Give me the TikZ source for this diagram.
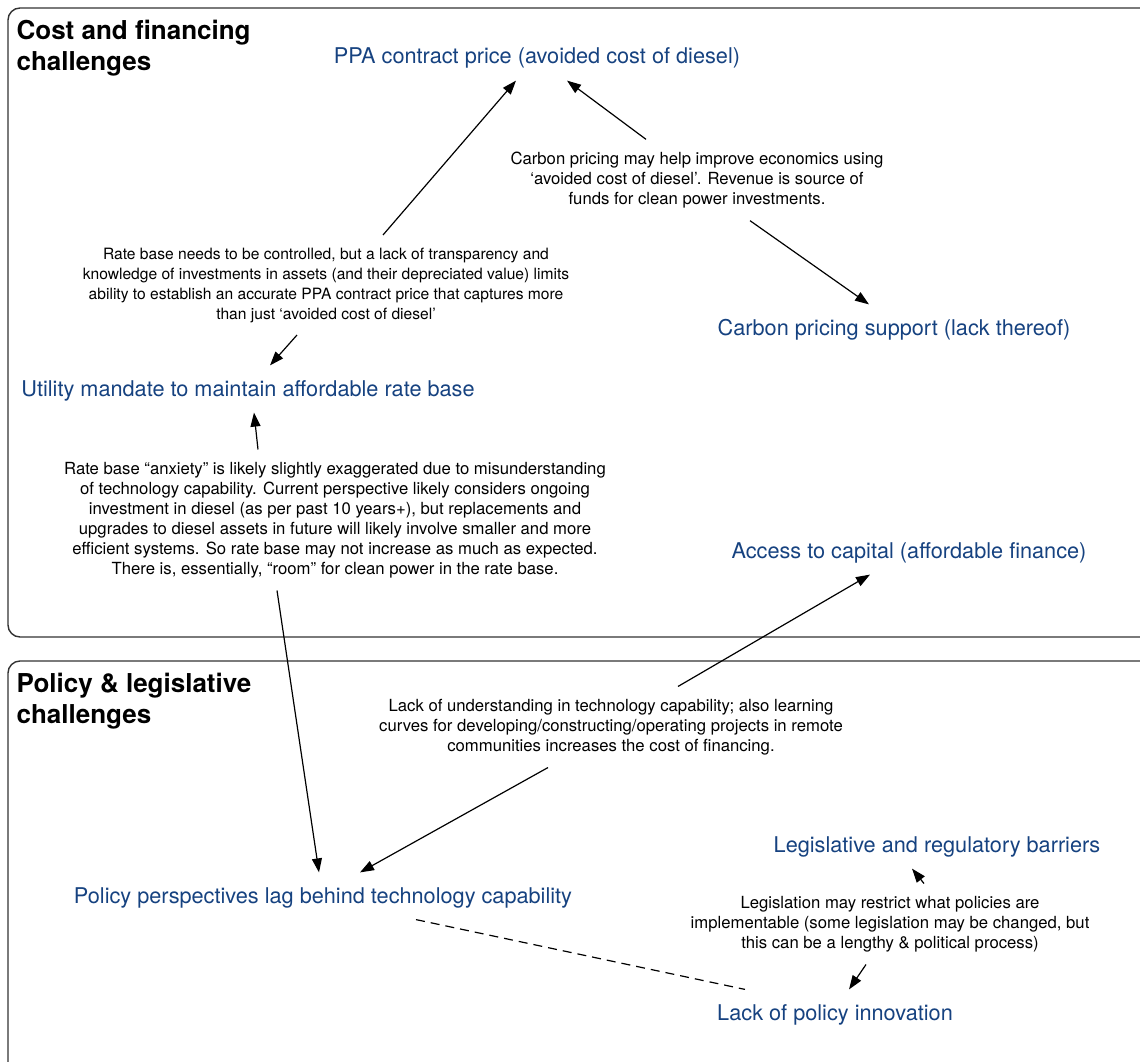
\documentclass[tikz,border=0pt]{standalone}
\usepackage{fontspec}
\setmainfont{TeX Gyre Heros}
\usepackage{tikz}
\usetikzlibrary{arrows.meta}
\definecolor{causeblue}{RGB}{22,66,128}
\tikzstyle{panel}=[draw=black!80,line width=1.4pt,rounded corners=12pt]
\tikzstyle{heading}=[anchor=north west,align=left,inner sep=0pt,font=\fontsize{26}{31}\selectfont\bfseries]
\tikzstyle{factor}=[text=causeblue,font=\fontsize{21.7}{26}\selectfont,inner xsep=2pt,inner ysep=13pt,text height=17pt,text depth=3pt]
\tikzstyle{note}=[align=center,font=\fontsize{16.7}{20}\selectfont,inner xsep=2pt,inner ysep=12pt]

\begin{document}
\begin{tikzpicture}[x=1pt,y=-1pt,line width=1.2pt,>={Triangle[length=14pt,width=10pt]},->]
  \useasboundingbox (0,0) rectangle (1140,1062);
  % panels
  \draw[panel,-] (1170,637) -- (8,637) -- (8,8) -- (1170,8);
  \draw[panel,-] (1170,661) -- (8,661) -- (8,1090);
  \node[heading] (costhead)   at (16,20)  {Cost and financing\\challenges};
  \node[heading] (policyhead) at (16,673) {Policy \& legislative\\challenges};
  % factors
  \node[factor] (ppa)         at (537,57)   {PPA contract price (avoided cost of diesel)};
  \node[factor] (carbon)      at (894,328)  {Carbon pricing support (lack thereof)};
  \node[factor] (utility)     at (248,389)  {Utility mandate to maintain affordable rate base};
  \node[factor] (capital)     at (909,551)  {Access to capital (affordable finance)};
  \node[factor] (perspective) at (323,896)  {Policy perspectives lag behind technology capability};
  \node[factor] (barriers)    at (937,845)  {Legislative and regulatory barriers};
  \node[factor] (innovation)  at (835,1013) {Lack of policy innovation};
  % notes
  \node[note] (carbonnote) at (697,180) {Carbon pricing may help improve economics using\\‘avoided cost of diesel’. Revenue is source of\\funds for clean power investments.};
  \node[note,font=\fontsize{15.6}{20}\selectfont] (ratenote) at (326,285) {Rate base needs to be controlled, but a lack of transparency and\\knowledge of investments in assets (and their depreciated value) limits\\ability to establish an accurate PPA contract price that captures more\\than just ‘avoided cost of diesel’};
  \node[note] (anxietynote) at (335,520) {Rate base “anxiety” is likely slightly exaggerated due to misunderstanding\\of technology capability. Current perspective likely considers ongoing\\investment in diesel (as per past 10 years+), but replacements and\\upgrades to diesel assets in future will likely involve smaller and more\\efficient systems. So rate base may not increase as much as expected.\\There is, essentially, “room” for clean power in the rate base.};
  \node[note] (understandnote) at (611,727) {Lack of understanding in technology capability; also learning\\curves for developing/constructing/operating projects in remote\\communities increases the cost of financing.};
  \node[note] (legisnote) at (890,924) {Legislation may restrict what policies are\\implementable (some legislation may be changed, but\\this can be a lengthy \& political process)};
  % links
  \draw ([xshift=57pt]ratenote.north) -- ([xshift=-21pt]ppa.south);
  \draw ([xshift=-51pt]carbonnote.north) -- ([xshift=30pt]ppa.south);
  \draw ([xshift=53pt]carbonnote.south) -- ([xshift=-25pt]carbon.north);
  \draw ([xshift=-29pt]ratenote.south) -- ([xshift=22pt]utility.north);
  \draw ([xshift=-77pt]anxietynote.north) -- ([xshift=6pt]utility.south);
  \draw ([xshift=-58pt]anxietynote.south) -- ([xshift=-4pt]perspective.north);
  \draw ([xshift=67pt]understandnote.north) -- ([xshift=-39pt]capital.south);
  \draw ([xshift=-63pt]understandnote.south) -- ([xshift=37pt]perspective.north);
  \draw ([xshift=34pt]legisnote.north) -- ([xshift=-25pt]barriers.south);
  \draw ([xshift=-24pt]legisnote.south) -- ([xshift=14pt]innovation.north);
  \draw[-,dashed,dash pattern=on 9pt off 6pt] ([xshift=93pt]perspective.south) -- ([xshift=-90pt]innovation.north);
\end{tikzpicture}
\end{document}
